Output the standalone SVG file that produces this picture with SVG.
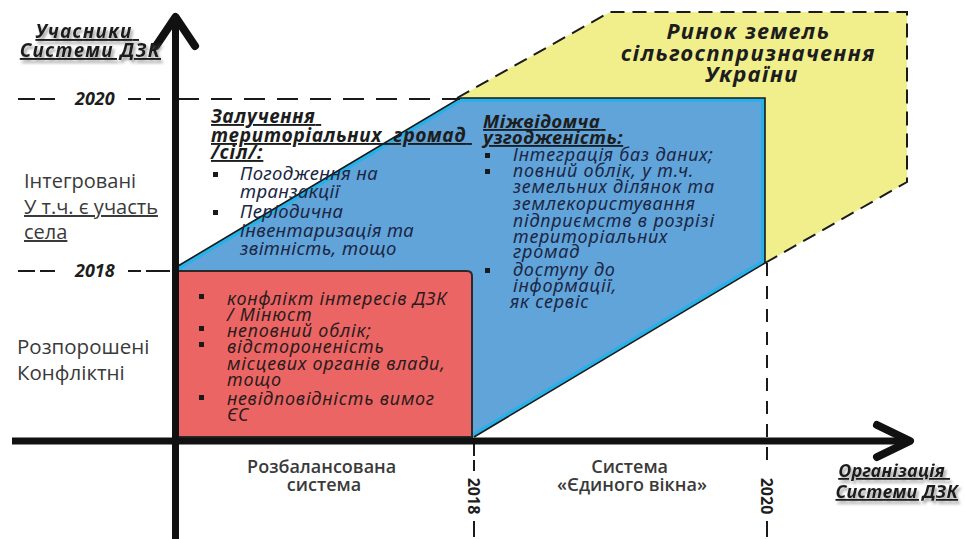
<svg xmlns="http://www.w3.org/2000/svg" width="966" height="539" viewBox="0 0 966 539">
<defs>
  <style>
    .it{font-family:"Noto Sans","Open Sans",sans-serif;font-style:italic}
    .bi{font-family:"Noto Sans","Open Sans",sans-serif;font-style:italic;font-weight:bold}
    .bd{font-family:"Noto Sans","Open Sans",sans-serif;font-weight:bold}
    .rg{font-family:"Open Sans","Noto Sans",sans-serif}
    .sb{font-family:"Open Sans","Noto Sans",sans-serif;font-weight:600}
    .ul{text-decoration:underline}
    .dk{fill:#1d1d1d}
    .nv{fill:#1c2645}
    .rd{fill:#2a1c1c}
    .gr{fill:#3a3a3a}
    .dash{stroke:#1a1a1a;stroke-width:2;fill:none}
    .bul{fill:#1a1a1a}
  </style>
  <filter id="sh" x="-10%" y="-30%" width="130%" height="180%">
    <feDropShadow dx="2" dy="3" stdDeviation="1.5" flood-color="#777" flood-opacity="0.7"/>
  </filter>
  <clipPath id="bclip">
    <polygon points="178,266 460,98 765,98 765,263 474,437 178,437"/>
  </clipPath>
  <rect id="b" width="5" height="5"/>
</defs>
<rect width="966" height="539" fill="#ffffff"/>

<g id="market">
  <polygon points="457,98 610,12 907,12 907,182 765,263 765,98" fill="#f0ef8c"/>
  <polyline class="dash" points="457,98 610,12 907,12 907,182 765,263" stroke-dasharray="14 8"/>
  <text class="bi dk" font-size="22" letter-spacing="1.5" text-anchor="middle">
    <tspan x="752" y="39">Ринок земель</tspan>
    <tspan x="752" y="61">сільгосппризначення</tspan>
    <tspan x="752" y="82">України</tspan>
  </text>
</g>

<g id="integrated">
  <polygon points="178,266 460,98 765,98 765,263 474,437 178,437" fill="#61a4d9"/>
  <polygon points="178,266 460,98 765,98 765,263 474,437 178,437" fill="none" stroke="#27b1e8" stroke-width="8" clip-path="url(#bclip)"/>
  <polyline points="178,266 460,98 765,98 765,263 474,437" fill="none" stroke="#1a1a1a" stroke-width="1.6"/>
  <text class="bi dk ul" font-size="19" letter-spacing="0.8">
    <tspan x="211" y="123">Залучення</tspan>
    <tspan x="211" y="142">територіальних&#160; громад</tspan>
    <tspan x="211" y="159">/сіл/:</tspan>
  </text>
  <use href="#b" x="213" y="172" class="bul"/>
  <use href="#b" x="213" y="210" class="bul"/>
  <text class="it nv" font-size="18.5" letter-spacing="0.4">
    <tspan x="240" y="180">Погодження на</tspan>
    <tspan x="240" y="198">транзакції</tspan>
    <tspan x="240" y="218">Періодична</tspan>
    <tspan x="240" y="237">інвентаризація та</tspan>
    <tspan x="240" y="255">звітність, тощо</tspan>
  </text>
  <text class="bi dk ul" font-size="18.5" letter-spacing="0.6">
    <tspan x="483" y="128">Міжвідомча</tspan>
    <tspan x="483" y="144">узгодженість:</tspan>
  </text>
  <use href="#b" x="485" y="153" class="bul"/>
  <use href="#b" x="485" y="169" class="bul"/>
  <use href="#b" x="485" y="268" class="bul"/>
  <text class="it nv" font-size="18" letter-spacing="0.8">
    <tspan x="513" y="161">Інтеграція баз даних;</tspan>
    <tspan x="513" y="177">повний облік, у т.ч.</tspan>
    <tspan x="513" y="193">земельних ділянок та</tspan>
    <tspan x="513" y="210">землекористування</tspan>
    <tspan x="513" y="227">підприємств в розрізі</tspan>
    <tspan x="513" y="243">територіальних</tspan>
    <tspan x="513" y="258">громад</tspan>
    <tspan x="513" y="276">доступу до</tspan>
    <tspan x="513" y="292">інформації,</tspan>
    <tspan x="510" y="308">як сервіс</tspan>
  </text>
</g>

<g id="fragmented">
  <path d="M178,271 H467 Q472,271 472,276 V437 H178 Z" fill="#ec6565" stroke="#2a2a2a" stroke-width="2"/>
  <use href="#b" x="199" y="294" class="bul"/>
  <use href="#b" x="199" y="326" class="bul"/>
  <use href="#b" x="199" y="342" class="bul"/>
  <use href="#b" x="199" y="395" class="bul"/>
  <text class="it rd" font-size="18" letter-spacing="0.8">
    <tspan x="227" y="305">конфлікт інтересів ДЗК</tspan>
    <tspan x="227" y="321">/ Мінюст</tspan>
    <tspan x="227" y="337">неповний облік;</tspan>
    <tspan x="227" y="353">відстороненість</tspan>
    <tspan x="227" y="370">місцевих органів влади,</tspan>
    <tspan x="227" y="386">тощо</tspan>
    <tspan x="227" y="405">невідповідність вимог</tspan>
    <tspan x="227" y="421">ЄС</tspan>
  </text>
</g>

<g id="connectors" fill="none" stroke="#111">
  <path class="dash" d="M18,99 H35 M40,99 H55 M128,99 H141 M146,99 H160"/>
  <line class="dash" x1="178" y1="99" x2="460" y2="99" stroke-dasharray="21 12"/>
  <path class="dash" d="M18,271 H35 M40,271 H55 M128,271 H141 M146,271 H170"/>
  <path class="dash" d="M474,444 V456 M474,460 V471 M474,521 V537"/>
  <line class="dash" x1="767" y1="263" x2="767" y2="470" stroke-dasharray="13 10"/>
  <path class="dash" d="M767,521 V537"/>
  <line x1="175.5" y1="20" x2="175.5" y2="539" stroke-width="7"/>
  <polyline points="156,46 175.5,17 195,46" stroke-width="8" stroke-linejoin="round" stroke-linecap="round"/>
  <line x1="12" y1="441" x2="908" y2="441" stroke-width="7"/>
  <polyline points="877,425 910,441 877,457" stroke-width="8" stroke-linejoin="round" stroke-linecap="round"/>
</g>

<g id="axis-labels">
  <text class="bi dk ul" font-size="19" letter-spacing="1.4" filter="url(#sh)" text-anchor="end">
    <tspan x="139" y="38">Учасники</tspan>
    <tspan x="161" y="57">Системи ДЗК</tspan>
  </text>
  <text class="bi dk" font-size="18" x="75" y="105">2020</text>
  <text class="bi dk" font-size="18" x="75" y="277">2018</text>
  <text class="rg gr" font-size="20">
    <tspan x="24" y="188">Інтегровані</tspan>
    <tspan x="24" y="214" class="ul">У т.ч. є участь</tspan>
    <tspan x="24" y="239" class="ul">села</tspan>
  </text>
  <text class="rg gr" font-size="20.5">
    <tspan x="17" y="354">Розпорошені</tspan>
    <tspan x="17" y="380">Конфліктні</tspan>
  </text>
  <text class="sb gr" font-size="18" text-anchor="middle">
    <tspan x="324" y="473">Розбалансована</tspan>
    <tspan x="324" y="491">система</tspan>
  </text>
  <text class="sb gr" font-size="18" text-anchor="middle">
    <tspan x="632" y="473">Система</tspan>
    <tspan x="632" y="491">«Єдиного вікна»</tspan>
  </text>
  <text class="bd dk" font-size="16" transform="translate(468,496) rotate(90)" text-anchor="middle">2018</text>
  <text class="bd dk" font-size="16" transform="translate(761,496) rotate(90)" text-anchor="middle">2020</text>
  <text class="bi dk ul" font-size="18" letter-spacing="0.3" filter="url(#sh)" text-anchor="end">
    <tspan x="950" y="477">Організація</tspan>
    <tspan x="958" y="498">Системи ДЗК</tspan>
  </text>
</g>
</svg>
